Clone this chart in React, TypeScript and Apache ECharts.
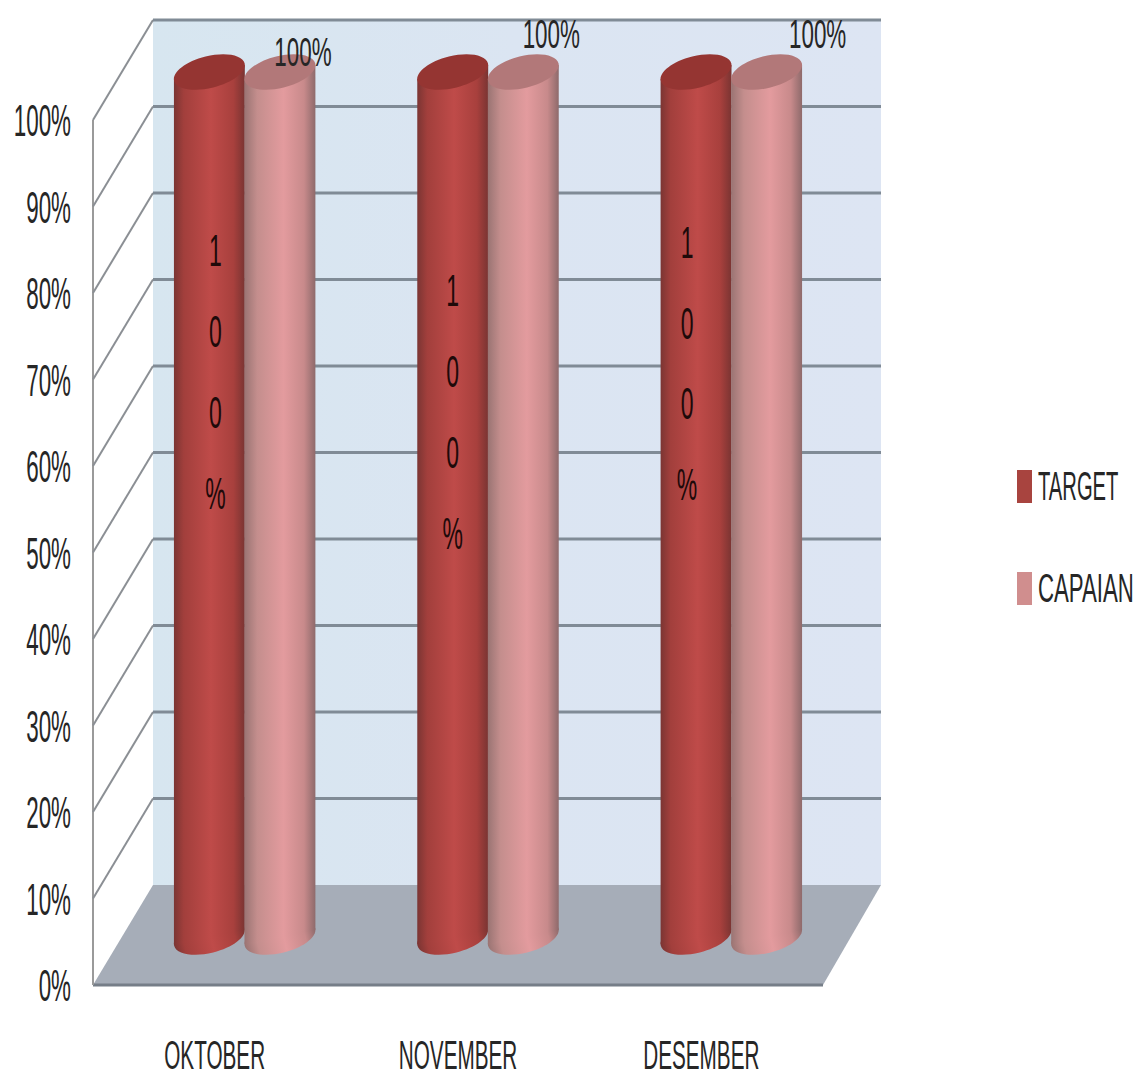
import React, { useEffect, useRef } from "react";
import * as echarts from "echarts";

const months = ["OKTOBER", "NOVEMBER", "DESEMBER"];
const targetValues = [100, 100, 100];
const capaianValues = [100, 100, 100];
const percentTicks = [0, 10, 20, 30, 40, 50, 60, 70, 80, 90, 100];

// Oblique projection of the 3D chamber: depth of the floor in pixels
const DEPTH_X = 60;
const DEPTH_Y = -100;
const NARROW = "'Liberation Sans Narrow', 'Liberation Sans', sans-serif";
const INK = "#262626";
const GRID_LINE = "#808b96";

// Hand placement of the data labels, per month
const targetLabelShift = [
  { dx: 6, level: 70.8 },
  { dx: 0, level: 66.2 },
  { dx: -9, level: 71.8 },
];
const capaianLabelShift = [
  { dx: 23, dy: -20 },
  { dx: 28, dy: -38 },
  { dx: 51, dy: -38 },
];

const vGrad = (stops: [number, string][]) =>
  new echarts.graphic.LinearGradient(
    0,
    0,
    1,
    0,
    stops.map(([offset, color]) => ({ offset, color }))
  );

const targetBody = () =>
  vGrad([
    [0, "#7b3533"],
    [0.14, "#a23f3c"],
    [0.52, "#bf4b49"],
    [0.84, "#a8403d"],
    [1, "#7a3432"],
  ]);
const capaianBody = () =>
  vGrad([
    [0, "#9a7473"],
    [0.18, "#c48e8d"],
    [0.55, "#e39b9e"],
    [0.84, "#c88a8b"],
    [1, "#8e6a6b"],
  ]);

const scaledText = (
  text: string,
  x: number,
  y: number,
  fontSize: number,
  scaleY: number,
  align: string,
  extra: Record<string, unknown> = {}
) => ({
  type: "text",
  x,
  y,
  scaleY,
  silent: true,
  style: {
    text,
    x: 0,
    y: 0,
    fontSize,
    fontFamily: NARROW,
    fill: INK,
    align,
    verticalAlign: "middle",
    ...extra,
  },
});

// One cylinder per datum, standing at mid depth of the floor
const cylinder =
  (side: -1 | 1, body: () => unknown, lid: string, label: (i: number, cx: number, topY: number, api: any) => any) =>
  (params: any, api: any) => {
    const i = api.value(0);
    const value = api.value(1);
    const band = api.size([1, 0])[0];
    const width = band * 0.29;
    const base = api.coord([i, 0]);
    const top = api.coord([i, value]);
    const cx = base[0] + DEPTH_X / 2 + (side * width) / 2;
    const topY = top[1] + DEPTH_Y / 2 + 2;
    const bottomY = base[1] + DEPTH_Y / 2 + 2;
    const rx = width / 2 + 1;
    const ry = 16;
    const tilt = 0.24;
    // Vertical tangents of the tilted ellipse, where the sides of the body meet it
    const c = Math.cos(tilt);
    const s = Math.sin(tilt);
    const halfX = Math.sqrt(rx * rx * c * c + ry * ry * s * s);
    const lean = ((rx * rx - ry * ry) * s * c) / halfX;
    return {
      type: "group",
      children: [
        {
          type: "ellipse",
          x: cx,
          y: bottomY,
          rotation: tilt,
          shape: { cx: 0, cy: 0, rx, ry },
          style: { fill: body() },
          silent: true,
        },
        {
          type: "polygon",
          shape: {
            points: [
              [cx - halfX, topY + lean],
              [cx + halfX, topY - lean],
              [cx + halfX, bottomY - lean],
              [cx - halfX, bottomY + lean],
            ],
          },
          style: { fill: body() },
          silent: true,
        },
        {
          type: "ellipse",
          x: cx,
          y: topY,
          rotation: tilt,
          shape: { cx: 0, cy: 0, rx, ry },
          style: { fill: lid },
          silent: true,
        },
        label(i, cx, topY, api),
      ],
    };
  };

const option = {
  animation: false,
  backgroundColor: "#ffffff",
  grid: { left: 93, top: 120, width: 730, height: 865 },
  xAxis: {
    type: "category",
    data: months,
    axisLine: { show: false },
    axisTick: { show: false },
    axisLabel: { show: false },
  },
  yAxis: {
    type: "value",
    min: 0,
    max: 100,
    interval: 10,
    axisLine: { show: false },
    axisTick: { show: false },
    axisLabel: { show: false },
    splitLine: { show: false },
  },
  graphic: [
    { type: "rect", shape: { x: 1017, y: 470, width: 15, height: 33 }, style: { fill: "#a8443f" } },
    scaledText("TARGET", 1038, 486, 20.2, 2, "left"),
    { type: "rect", shape: { x: 1017, y: 572, width: 15, height: 33 }, style: { fill: "#d08e8e" } },
    scaledText("CAPAIAN", 1038, 588, 22.2, 1.85, "left"),
  ],
  series: [
    {
      // Back wall and floor of the chamber
      type: "custom",
      z: 1,
      data: [[0, 0]],
      silent: true,
      renderItem: (params: any) => {
        const { x, y, width, height } = params.coordSys;
        const b = y + height;
        const r = x + width;
        return {
          type: "group",
          children: [
            {
              type: "rect",
              shape: { x: x + DEPTH_X, y: y + DEPTH_Y, width: width - 2, height },
              style: { fill: vGrad([[0, "#d7e6f0"], [0.5, "#dbe5f2"], [1, "#dde5f3"]]) },
            },
            {
              type: "polygon",
              shape: {
                points: [
                  [x, b],
                  [r, b],
                  [r + DEPTH_X - 2, b + DEPTH_Y],
                  [x + DEPTH_X, b + DEPTH_Y],
                ],
              },
              style: { fill: "#a6adb8" },
            },
            {
              type: "line",
              shape: { x1: x, y1: b, x2: r, y2: b },
              style: { stroke: "#767e88", lineWidth: 3 },
            },
            {
              type: "line",
              shape: { x1: x, y1: y, x2: x, y2: b },
              style: { stroke: "#9a9a9a", lineWidth: 2 },
            },
          ],
        };
      },
    },
    {
      // Gridlines on the back and left walls, with the value labels
      type: "custom",
      z: 2,
      silent: true,
      data: percentTicks.map((v) => [0, v]),
      renderItem: (params: any, api: any) => {
        const v = api.value(1);
        const { x, width } = params.coordSys;
        const y = api.coord([0, v])[1];
        const children: any[] = [
          scaledText(`${v}%`, x - 22, y + 1, 22.4, 2, "right"),
        ];
        if (v > 0) {
          children.push(
            {
              type: "line",
              shape: { x1: x, y1: y, x2: x + DEPTH_X, y2: y + DEPTH_Y },
              style: { stroke: "#8b8f94", lineWidth: 2 },
            },
            {
              type: "line",
              shape: { x1: x + DEPTH_X, y1: y + DEPTH_Y, x2: x + width + DEPTH_X - 2, y2: y + DEPTH_Y },
              style: { stroke: GRID_LINE, lineWidth: 3 },
            }
          );
        }
        return { type: "group", children };
      },
    },
    {
      // Month names under the floor
      type: "custom",
      z: 2,
      silent: true,
      data: months.map((_, i) => [i, 0]),
      renderItem: (_: any, api: any) => {
        const i = api.value(0);
        const [cx, y] = api.coord([i, 0]);
        return scaledText(months[i], cx, y + 70, 20.7, 1.95, "center");
      },
    },
    {
      name: "TARGET",
      type: "custom",
      z: 3,
      data: targetValues.map((v, i) => [i, v]),
      renderItem: cylinder(-1, targetBody, "#953532", (i, cx, _top, api) => {
        const shift = targetLabelShift[i];
        const y = api.coord([i, shift.level])[1];
        return scaledText("1\n0\n0\n%", cx + shift.dx, y, 23, 1.95, "center", {
          lineHeight: 41.5,
          fill: "#1e0a0a",
        });
      }),
    },
    {
      name: "CAPAIAN",
      type: "custom",
      z: 4,
      data: capaianValues.map((v, i) => [i, v]),
      renderItem: cylinder(1, capaianBody, "#b27879", (i, cx, top) => {
        const shift = capaianLabelShift[i];
        return scaledText("100%", cx + shift.dx, top + shift.dy, 22.4, 1.85, "center");
      }),
    },
  ],
};

export default function App() {
  const ref = useRef<HTMLDivElement>(null);
  useEffect(() => {
    const chart = echarts.init(ref.current!, undefined, { renderer: "svg" });
    chart.setOption(option as any);
    return () => chart.dispose();
  }, []);
  return (
    <div
      ref={ref}
      style={{ position: "absolute", left: 0, top: 0, width: 1141, height: 1077 }}
    />
  );
}
